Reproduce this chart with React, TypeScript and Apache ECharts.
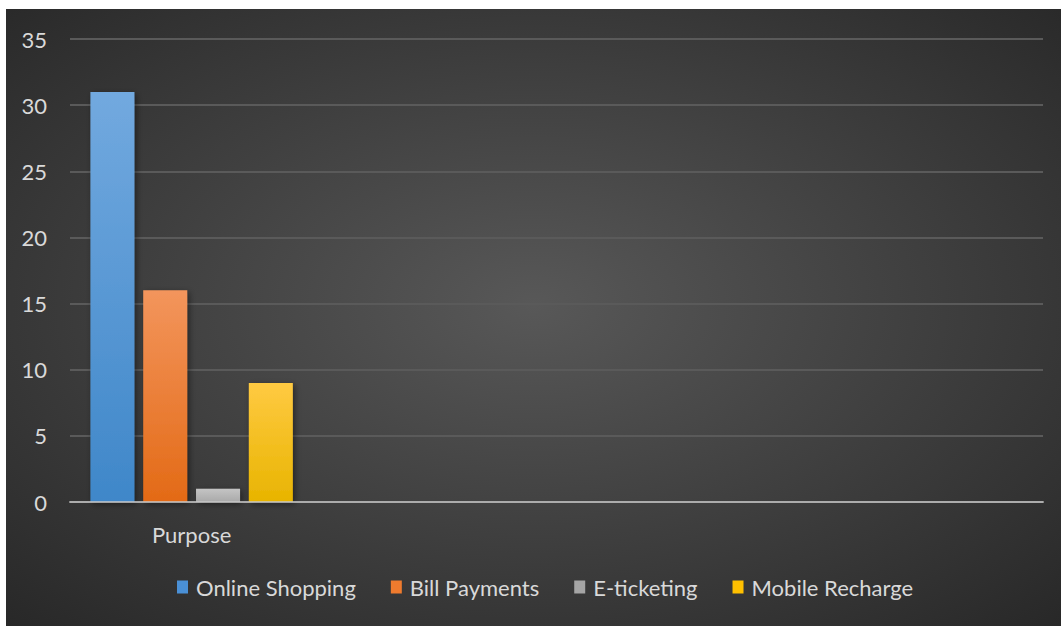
import React, { useEffect, useRef } from "react";
import * as echarts from "echarts";

const categories = ["Purpose", "", "", ""];
const seriesNames = ["Online Shopping", "Bill Payments", "E-ticketing", "Mobile Recharge"];
const onlineShopping = [31, null, null, null];
const billPayments = [16, null, null, null];
const eTicketing = [1, null, null, null];
const mobileRecharge = [9, null, null, null];
const yTicks = [0, 5, 10, 15, 20, 25, 30, 35];

const colorStops: [string, string][] = [
  ["#72a9df", "#3f87c9"],
  ["#f3955c", "#e36a16"],
  ["#c4c4c4", "#a9a9a9"],
  ["#ffca42", "#e8b400"],
];
const legendColors = ["#4a90d6", "#ef7b2e", "#a5a5a5", "#ffc000"];

const FONT = "Lato";

export default function App() {
  const ref = useRef<HTMLDivElement>(null);
  useEffect(() => {
    const chart = echarts.init(ref.current!, null, { renderer: "svg" });
    const datas = [onlineShopping, billPayments, eTicketing, mobileRecharge];
    chart.setOption({
      animation: false,
      graphic: [
        {
          type: "rect",
          z: -10,
          silent: true,
          shape: { x: 6, y: 9, width: 1055, height: 617 },
          style: {
            fill: new echarts.graphic.RadialGradient(0.5, 0.48, 0.75, [
              { offset: 0, color: "#585858" },
              { offset: 1, color: "#262626" },
            ]),
          },
        },
      ],
      grid: { left: 70, right: 18, top: 39, bottom: 124, containLabel: false },
      legend: {
        bottom: 23,
        left: 172,
        itemWidth: 11,
        itemHeight: 13,
        itemGap: 35,
        icon: "rect",
        textStyle: { color: "#d9d9d9", fontSize: 22, fontFamily: FONT, padding: [0, 0, 0, 3] },
        data: seriesNames.map((n, i) => ({ name: n, itemStyle: { color: legendColors[i] } })),
      },
      xAxis: {
        type: "category",
        data: categories,
        z: 5,
        axisLine: { lineStyle: { color: "rgba(200,200,200,0.75)", width: 2 } },
        axisTick: { show: false },
        axisLabel: { color: "#d9d9d9", fontSize: 22, fontFamily: FONT, margin: 21 },
      },
      yAxis: {
        type: "value",
        min: 0,
        max: 35,
        interval: 5,
        axisLine: { show: false },
        axisTick: { show: false },
        axisLabel: {
          color: "#d9d9d9",
          fontSize: 22,
          fontFamily: FONT,
          margin: 23,
          formatter: (v: number) => (yTicks.includes(v) ? String(v) : ""),
        },
        splitLine: { lineStyle: { color: "#5a5a5a", width: 2 } },
      },
      series: seriesNames.map((name, i) => ({
        name,
        type: "bar",
        data: datas[i],
        barWidth: 44,
        barGap: "20%",
        itemStyle: {
          color: new echarts.graphic.LinearGradient(0, 0, 0, 1, [
            { offset: 0, color: colorStops[i][0] },
            { offset: 1, color: colorStops[i][1] },
          ]),
          shadowColor: "rgba(0,0,0,0.45)",
          shadowBlur: 6,
          shadowOffsetX: 2,
          shadowOffsetY: 2,
        },
      })),
    });
    return () => chart.dispose();
  }, []);
  return (
    <div
      ref={ref}
      style={{ position: "fixed", left: 0, top: 0, width: 1061, height: 626, background: "#ffffff" }}
    />
  );
}
